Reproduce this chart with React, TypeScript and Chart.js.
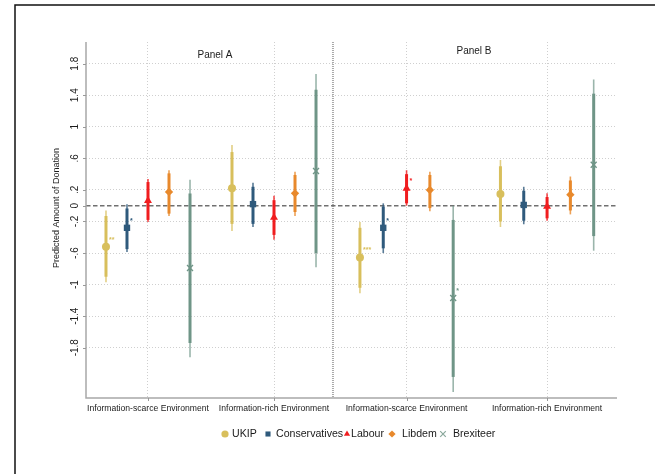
import React, { useEffect, useRef } from "react";
import { Chart, registerables } from "chart.js";

Chart.register(...registerables);

// ---------- data ----------
const parties = ["UKIP", "Conservatives", "Labour", "Libdem", "Brexiteer"];
const groupLabels = [
  "Information-scarce Environment",
  "Information-rich Environment",
  "Information-scarce Environment",
  "Information-rich Environment",
];
const panelTitles = ["Panel A", "Panel B"];
const yTickValues = [1.8, 1.4, 1, 0.6, 0.2, 0, -0.2, -0.6, -1, -1.4, -1.8];
const yTickLabels = ["1.8", "1.4", "1", ".6", ".2", "0", "-.2", "-.6", "-1", "-1.4", "-1.8"];
const yTitle = "Predicted Amount of Donation";

// order of groups: [A scarce, A rich, B scarce, B rich]
const ukipEst = [-0.52, 0.22, -0.655, 0.15];
const ukipLo90 = [-0.9, -0.23, -1.04, -0.2];
const ukipHi90 = [-0.13, 0.68, -0.28, 0.5];
const ukipLo95 = [-0.97, -0.32, -1.11, -0.27];
const ukipHi95 = [-0.06, 0.77, -0.205, 0.58];
const ukipStars = ["**", "", "***", ""];

const consEst = [-0.28, 0.02, -0.28, 0.01];
const consLo90 = [-0.55, -0.23, -0.54, -0.19];
const consHi90 = [-0.035, 0.24, -0.01, 0.19];
const consLo95 = [-0.585, -0.27, -0.6, -0.235];
const consHi95 = [0.02, 0.29, 0.03, 0.24];
const consStars = ["*", "", "*", ""];

const labEst = [0.065, -0.15, 0.22, -0.01];
const labLo90 = [-0.18, -0.37, 0.03, -0.16];
const labHi90 = [0.3, 0.07, 0.4, 0.11];
const labLo95 = [-0.205, -0.43, 0.0, -0.19];
const labHi95 = [0.34, 0.125, 0.45, 0.157];
const labStars = ["", "", "*", ""];

const libEst = [0.175, 0.157, 0.2, 0.14];
const libLo90 = [-0.1, -0.08, -0.03, -0.06];
const libHi90 = [0.41, 0.39, 0.39, 0.32];
const libLo95 = [-0.13, -0.13, -0.07, -0.11];
const libHi95 = [0.45, 0.43, 0.43, 0.37];
const libStars = ["", "", "", ""];

const brexEst = [-0.79, 0.44, -1.17, 0.52];
const brexLo90 = [-1.74, -0.6, -2.17, -0.385];
const brexHi90 = [0.155, 1.47, -0.18, 1.42];
const brexLo95 = [-1.92, -0.78, -2.36, -0.57];
const brexHi95 = [0.33, 1.67, 0.0, 1.6];
const brexStars = ["", "", "*", ""];

// ---------- layout / style (not data) ----------
const groupCenters = [1, 2, 3.052, 4.167];
const slotOffsets = [0.1667, 0.1667, 0.185, 0.185];
const separatorX = 2.468;
const xMin = 0.508;
const xMax = 4.722;
const yMin = -2.437;
const yMax = 2.075;

const colors = ["#d8bf5c", "#2f5a7c", "#f01d1f", "#e8892c", "#6f9587"];
const lightColors = [
  "rgba(216,191,92,0.75)",
  "rgba(47,90,124,0.8)",
  "rgba(240,29,31,0.8)",
  "rgba(232,137,44,0.8)",
  "rgba(111,149,135,0.7)",
];
const pointStyles = ["circle", "rect", "triangle", "rectRot", "crossRot"];
const pointRadii = [4, 4.5, 4.6, 4.2, 4.2];

const FONT = "'Liberation Sans', Arial, Helvetica, sans-serif";

const est = [ukipEst, consEst, labEst, libEst, brexEst];
const lo90 = [ukipLo90, consLo90, labLo90, libLo90, brexLo90];
const hi90 = [ukipHi90, consHi90, labHi90, libHi90, brexHi90];
const lo95 = [ukipLo95, consLo95, labLo95, libLo95, brexLo95];
const hi95 = [ukipHi95, consHi95, labHi95, libHi95, brexHi95];
const stars = [ukipStars, consStars, labStars, libStars, brexStars];

function drawMarker(ctx: CanvasRenderingContext2D, style: string, x: number, y: number, r: number, color: string) {
  ctx.save();
  ctx.fillStyle = color;
  ctx.strokeStyle = color;
  ctx.beginPath();
  if (style === "circle") {
    ctx.arc(x, y, r, 0, Math.PI * 2);
    ctx.fill();
  } else if (style === "rect") {
    const s = r * Math.SQRT1_2;
    ctx.rect(x - s, y - s, 2 * s, 2 * s);
    ctx.fill();
  } else if (style === "triangle") {
    for (let k = 0; k < 3; k++) {
      const a = (k * 2 * Math.PI) / 3;
      const px = x + Math.sin(a) * r;
      const py = y - Math.cos(a) * r;
      if (k === 0) ctx.moveTo(px, py);
      else ctx.lineTo(px, py);
    }
    ctx.closePath();
    ctx.fill();
  } else if (style === "rectRot") {
    ctx.moveTo(x, y - r);
    ctx.lineTo(x + r, y);
    ctx.lineTo(x, y + r);
    ctx.lineTo(x - r, y);
    ctx.closePath();
    ctx.fill();
  } else {
    ctx.lineWidth = 1.2;
    ctx.moveTo(x - r, y - r);
    ctx.lineTo(x + r, y + r);
    ctx.moveTo(x + r, y - r);
    ctx.lineTo(x - r, y + r);
    ctx.stroke();
  }
  ctx.restore();
}

const customDraw = {
  id: "customDraw",
  beforeDatasetsDraw(chart: any) {
    const { ctx, chartArea } = chart;
    const xs = chart.scales.x;
    const ys = chart.scales.y;
    ctx.save();
    // panel separator
    const sx = xs.getPixelForValue(separatorX);
    ctx.strokeStyle = "#a9a9a9";
    ctx.lineWidth = 2;
    ctx.setLineDash([1, 1]);
    ctx.beginPath();
    ctx.moveTo(sx, chartArea.top);
    ctx.lineTo(sx, chartArea.bottom);
    ctx.stroke();
    // zero line
    const zy = ys.getPixelForValue(0);
    ctx.strokeStyle = "#707070";
    ctx.lineWidth = 1.5;
    ctx.setLineDash([4.5, 2.5]);
    ctx.beginPath();
    ctx.moveTo(chartArea.left, zy);
    ctx.lineTo(chartArea.right, zy);
    ctx.stroke();
    ctx.setLineDash([]);
    // axes lines
    ctx.strokeStyle = "#a8a8a8";
    ctx.lineWidth = 1.5;
    ctx.beginPath();
    ctx.moveTo(chartArea.left, chartArea.top);
    ctx.lineTo(chartArea.left, chartArea.bottom);
    ctx.lineTo(chartArea.right, chartArea.bottom);
    ctx.stroke();
    // tick marks
    ctx.lineWidth = 1;
    ctx.strokeStyle = "#999";
    yTickValues.forEach((v) => {
      const py = Math.round(ys.getPixelForValue(v)) + 0.5;
      ctx.beginPath();
      ctx.moveTo(chartArea.left - 3, py);
      ctx.lineTo(chartArea.left, py);
      ctx.stroke();
    });
    groupCenters.forEach((v) => {
      const px = Math.round(xs.getPixelForValue(v)) + 0.5;
      ctx.beginPath();
      ctx.moveTo(px, chartArea.bottom);
      ctx.lineTo(px, chartArea.bottom + 3);
      ctx.stroke();
    });
    // error bars
    chart.data.datasets.forEach((ds: any, di: number) => {
      ds.data.forEach((pt: any, gi: number) => {
        const px = xs.getPixelForValue(pt.x);
        ctx.lineCap = "butt";
        ctx.strokeStyle = lightColors[di];
        ctx.lineWidth = 1.6;
        ctx.beginPath();
        ctx.moveTo(px, ys.getPixelForValue(lo95[di][gi]));
        ctx.lineTo(px, ys.getPixelForValue(hi95[di][gi]));
        ctx.stroke();
        ctx.strokeStyle = colors[di];
        ctx.lineWidth = 3;
        ctx.beginPath();
        ctx.moveTo(px, ys.getPixelForValue(lo90[di][gi]));
        ctx.lineTo(px, ys.getPixelForValue(hi90[di][gi]));
        ctx.stroke();
      });
    });
    ctx.restore();
  },
  afterDatasetsDraw(chart: any) {
    const { ctx } = chart;
    const xs = chart.scales.x;
    const ys = chart.scales.y;
    ctx.save();
    ctx.font = `bold 7px ${FONT}`;
    ctx.textAlign = "left";
    ctx.textBaseline = "middle";
    chart.data.datasets.forEach((ds: any, di: number) => {
      ds.data.forEach((pt: any, gi: number) => {
        const s = stars[di][gi];
        if (!s) return;
        ctx.fillStyle = colors[di];
        ctx.fillText(s, xs.getPixelForValue(pt.x) + 3, ys.getPixelForValue(pt.y) - 7);
      });
    });
    ctx.restore();
  },
  afterDraw(chart: any) {
    const { ctx, chartArea } = chart;
    const xs = chart.scales.x;
    const ys = chart.scales.y;
    ctx.save();
    ctx.fillStyle = "#1a1a1a";
    // y tick labels (rotated)
    ctx.font = `10px ${FONT}`;
    ctx.textAlign = "center";
    ctx.textBaseline = "middle";
    yTickValues.forEach((v, i) => {
      const py = ys.getPixelForValue(v);
      ctx.save();
      ctx.translate(75, py);
      ctx.rotate(-Math.PI / 2);
      ctx.fillText(yTickLabels[i], 0, 0);
      ctx.restore();
    });
    // y title
    ctx.font = `9px ${FONT}`;
    ctx.save();
    ctx.translate(57, 208);
    ctx.rotate(-Math.PI / 2);
    ctx.fillText(yTitle, 0, 0);
    ctx.restore();
    // x labels
    ctx.font = `8.6px ${FONT}`;
    groupCenters.forEach((v, i) => {
      ctx.fillText(groupLabels[i], xs.getPixelForValue(v), chartArea.bottom + 11);
    });
    // panel titles
    ctx.font = `10px ${FONT}`;
    ctx.fillText(panelTitles[0], 215, 55);
    ctx.fillText(panelTitles[1], 474, 51);
    // legend
    const legendMarkerX = [225, 268, 347, 392, 443];
    const legendTextX = [232, 276, 351, 402, 453];
    const ly = 434;
    ctx.font = `10.6px ${FONT}`;
    ctx.textAlign = "left";
    parties.forEach((p, i) => {
      drawMarker(ctx, pointStyles[i], legendMarkerX[i], ly, pointStyles[i] === "crossRot" ? 2.8 : 3.6, i === 4 ? "#8aa89c" : colors[i]);
      ctx.fillStyle = "#1a1a1a";
      ctx.fillText(p, legendTextX[i], ly + 0.5);
    });
    // outer frame (left & top)
    ctx.strokeStyle = "#111";
    ctx.lineWidth = 1.5;
    ctx.beginPath();
    ctx.moveTo(15, 474);
    ctx.lineTo(15, 5);
    ctx.lineTo(655, 5);
    ctx.stroke();
    ctx.restore();
  },
};

export default function App() {
  const canvasRef = useRef<HTMLCanvasElement | null>(null);

  useEffect(() => {
    if (!canvasRef.current) return;
    const datasets = parties.map((name, di) => ({
      label: name,
      data: est[di].map((y, gi) => ({ x: groupCenters[gi] + (di - 2) * slotOffsets[gi], y })),
      pointStyle: pointStyles[di],
      pointRadius: pointRadii[di],
      pointBackgroundColor: colors[di],
      pointBorderColor: colors[di],
      pointBorderWidth: pointStyles[di] === "crossRot" ? 1.4 : 0,
      showLine: false,
    }));
    const chart = new Chart(canvasRef.current, {
      type: "scatter",
      data: { datasets } as any,
      plugins: [customDraw],
      options: {
        responsive: false,
        animation: false,
        events: [],
        layout: { padding: { left: 86, top: 42, right: 38, bottom: 76 } },
        plugins: { legend: { display: false }, tooltip: { enabled: false } },
        scales: {
          x: {
            type: "linear",
            min: xMin,
            max: xMax,
            afterBuildTicks: (scale: any) => {
              scale.ticks = groupCenters.map((v) => ({ value: v }));
            },
            ticks: { display: false },
            grid: { color: "#cfcfcf", lineWidth: 1, drawTicks: false },
            border: { display: false, dash: [1, 2] },
          },
          y: {
            type: "linear",
            min: yMin,
            max: yMax,
            afterBuildTicks: (scale: any) => {
              scale.ticks = yTickValues.map((v) => ({ value: v }));
            },
            ticks: { display: false },
            grid: {
              color: (c: any) => (c.tick && c.tick.value === 0 ? "rgba(0,0,0,0)" : "#cfcfcf"),
              lineWidth: 1,
              drawTicks: false,
            },
            border: { display: false, dash: [1, 2] },
          },
        },
      } as any,
    });
    return () => chart.destroy();
  }, []);

  return (
    <div style={{ position: "absolute", left: 0, top: 0, width: 655, height: 474, background: "#fff" }}>
      <canvas ref={canvasRef} width={655} height={474} style={{ width: 655, height: 474, display: "block" }} />
    </div>
  );
}
